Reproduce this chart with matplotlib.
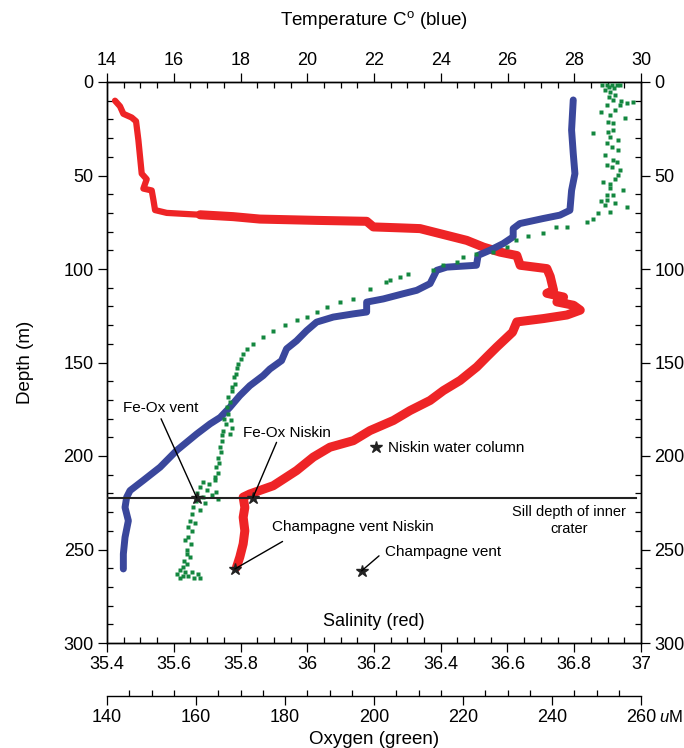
import numpy as np
import matplotlib
matplotlib.use("Agg")
import matplotlib.pyplot as plt
from matplotlib.ticker import MultipleLocator, FormatStrFormatter

plt.rcParams['font.family'] = ['Liberation Sans', 'DejaVu Sans']
plt.rcParams['mathtext.fontset'] = 'custom'
plt.rcParams['mathtext.rm'] = 'Liberation Sans'
plt.rcParams['mathtext.it'] = 'Liberation Sans:italic'

# ── Salinity profile (red) ───────────────────────────────────────────────────
sal_depth = [10, 13, 17, 19, 21, 31, 40, 49, 52, 57, 58, 63, 68.5, 70, 71, 72,
             73.3, 74, 74.5, 77.5, 78, 78.4, 82, 84.7, 88.3, 91, 92.8, 98,
             99.8, 104, 111.4, 113, 115, 117.6, 119.4, 122, 124.6, 126.5,
             128.3, 133.8, 141.7, 147, 152.4, 159.6, 165, 170.3, 175.7, 181,
             186.4, 191.8, 195.3, 200.6, 207.8, 215.9, 220.3, 222, 227.5,
             232.8, 240, 247, 254, 259.5]
salinity = [35.424, 35.439, 35.449, 35.474, 35.487, 35.494, 35.499, 35.504,
            35.519, 35.509, 35.534, 35.539, 35.544, 35.579, 35.679, 35.778,
            35.858, 36.028, 36.178, 36.198, 36.278, 36.338, 36.418, 36.478,
            36.528, 36.578, 36.628, 36.638, 36.718, 36.728, 36.738, 36.718,
            36.768, 36.748, 36.798, 36.818, 36.778, 36.708, 36.628, 36.615,
            36.568, 36.538, 36.508, 36.458, 36.408, 36.368, 36.308, 36.258,
            36.188, 36.138, 36.068, 36.018, 35.968, 35.898, 35.828, 35.808,
            35.813, 35.808, 35.813, 35.808, 35.798, 35.788]

# ── Temperature profile (blue) ───────────────────────────────────────────────
temp_depth = [9.6, 25.7, 38.2, 49, 58, 68.6, 71.2, 73, 75.7, 78.4, 82.8, 86.4,
              90, 92.7, 98, 99, 100.7, 107.8, 111.4, 113.2, 116, 117.7, 123,
              124, 125.7, 128.4, 133, 138.4, 142.7, 149, 153.5, 157, 162.4,
              167.7, 174, 179.4, 182.8, 188.2, 197, 206, 213, 218.5, 222,
              227.5, 234.6, 243.5, 252.4, 260.4]
temperature = [27.97, 27.92, 27.97, 28.02, 27.92, 27.87, 27.57, 27.07, 26.37,
               26.17, 26.17, 25.87, 25.47, 25.12, 25.07, 24.18, 23.88, 23.68,
               23.28, 22.88, 22.28, 21.78, 21.78, 21.38, 20.78, 20.28, 19.98,
               19.68, 19.38, 19.23, 18.88, 18.68, 18.28, 17.98, 17.68, 17.39,
               17.09, 16.69, 16.09, 15.59, 15.09, 14.69, 14.59, 14.54, 14.64,
               14.54, 14.49, 14.49]

# ── Oxygen samples (green squares) ───────────────────────────────────────────
oxy_depth = [1.6, 1.6, 1.6, 1.6, 1.6, 2.5, 3, 4.3, 5.2, 7, 7.9, 9.6, 10, 11.4,
             10.5, 12.3, 12.3, 15, 15.9, 17.7, 19.5, 21.2, 22.1, 27.5, 26.6,
             25.7, 29.3, 31, 32.5, 34.6, 36.4, 39.1, 41.8, 42.7, 44.4, 45.3,
             46.8, 49.8, 52.1, 53.4, 54.3, 56.9, 57.8, 60.5, 60.5, 63.5, 63.2,
             64.6, 66.8, 65.9, 69.4, 70.3, 73, 74.8,
             77.5, 77.5, 81, 82.5, 84.7, 88.2, 91, 91.8, 93.5, 96.3, 98, 100.7,
             102.5, 104.3, 106, 107, 110.6, 116, 117.7, 120.4, 123, 125.7,
             127.5, 130, 133, 136.5, 140, 142.7, 145.4, 148, 150.7, 153, 156,
             158, 161.4, 163, 165, 168.5, 171, 174, 177.5, 180, 181, 183, 185,
             186.4, 188, 189, 192, 195.3, 198, 201, 204, 206, 209, 211, 213,
             214, 215, 216.8, 218, 219, 220, 221, 222, 223, 224, 225, 227.5,
             229, 231, 234.6, 236, 238, 240, 243.5, 245, 247, 250, 252.4, 254,
             256, 258, 259.6, 261, 262, 262, 263, 263, 264, 264, 265, 265, 265]
oxygen = [251.2, 252.3, 253.4, 254.5, 255.3, 252.8, 254.0, 251.9, 253.0, 254.2,
          252.7, 253.8, 255.6, 256.8, 258.3, 252.3, 255.3, 254.2, 251.1, 253.0,
          256.4, 252.6, 253.8, 249.3, 252.6, 253.8, 253.0, 254.9, 252.3, 253.4,
          254.9, 251.9, 253.8, 254.5, 252.3, 253.4, 255.3, 254.9, 254.1, 251.5,
          253.0, 253.0, 256.0, 252.3, 253.8, 251.1, 252.3, 254.2, 256.8, 251.9,
          253.0, 250.4, 249.3, 247.8,
          243.3, 241.0, 238.0, 234.7, 232.0, 229.8, 226.8, 223.0, 220.0, 218.6,
          215.6, 213.3, 207.7, 205.8, 203.6, 202.8, 199.0, 195.3, 192.4, 189.4,
          187.1, 184.9, 182.6, 180.0, 177.4, 175.1, 172.9, 171.4, 170.6, 170.0,
          169.5, 169.3, 169.1, 168.6, 168.8, 168.2, 168.0, 167.3, 167.6, 166.9,
          167.3, 166.4, 167.8, 166.8, 168.2, 166.1, 167.6, 165.8, 165.9, 165.4,
          165.7, 164.9, 165.2, 164.6, 165.0, 164.2, 164.3, 161.5, 163.0, 160.9,
          162.5, 164.5, 160.2, 163.6, 161.5, 165.0, 160.0, 162.0, 159.4, 160.8,
          159.0, 158.7, 159.8, 158.2, 159.2, 158.3, 157.6, 158.8, 157.9, 157.9,
          158.6, 157.3, 158.0, 157.1, 156.5, 157.5, 159.0, 160.5, 155.8, 157.0,
          158.3, 159.6, 161.0, 156.5]

# ── Sample stations (salinity, depth) ────────────────────────────────────────
sill_depth = 222.4
stations = {
    "Fe-Ox vent": (35.669, 222.4),
    "Fe-Ox Niskin": (35.837, 222.4),
    "Niskin water column": (36.205, 195.3),
    "Champagne vent Niskin": (35.783, 260.4),
    "Champagne vent": (36.163, 261.4),
}

red = '#ee2426'
blue = '#3a479c'
green = '#13873f'

fig = plt.figure(figsize=(6.84, 7.48), dpi=100)
ax = fig.add_axes([107 / 684, 1 - 643 / 748, 534 / 684, 561 / 748])
ax2 = ax.twiny()
ax3 = ax.twiny()

# red trace: thinner in the mixed layer, heavier below
k = 14
ax.plot(salinity[:k + 1], sal_depth[:k + 1], color=red, lw=4.5,
        solid_capstyle='round', solid_joinstyle='round')
ax.plot(salinity[k:], sal_depth[k:], color=red, lw=6.5,
        solid_capstyle='round', solid_joinstyle='round')
ax2.plot(temperature, temp_depth, color=blue, lw=5, solid_capstyle='round',
         solid_joinstyle='round')
ax3.plot(oxygen, oxy_depth, 's', color=green, ms=3.2, mec='none')

ax.set_xlim(35.4, 37)
ax2.set_xlim(14, 30)
ax3.set_xlim(140, 260)
ax.set_ylim(300, 0)

# sill line and station markers drawn on top layer
ax3.axhline(sill_depth, xmin=0, xmax=0.991, color='#222222', lw=1.5)
for name, (s, d) in stations.items():
    ax3.plot([s], [d], '*', color='#222222', ms=9, mec='#222222',
             transform=ax.transData)

txt = dict(xycoords=ax.transData, fontsize=11, va='center', ha='left')
leader = dict(xycoords=ax.transData, textcoords=ax.transData,
              arrowprops=dict(arrowstyle='-', color='black', lw=1,
                              shrinkA=0, shrinkB=0))
ax3.annotate("Fe-Ox vent", xy=(35.447, 174.1), **txt)
ax3.annotate("", xy=stations["Fe-Ox vent"], xytext=(35.562, 180.1), **leader)
ax3.annotate("Fe-Ox Niskin", xy=(35.807, 187.5), **txt)
ax3.annotate("", xy=stations["Fe-Ox Niskin"], xytext=(35.908, 192.7), **leader)
ax3.annotate("Niskin water column", xy=(36.243, 195.5), **txt)
ax3.annotate("Champagne vent Niskin", xy=(35.893, 238.2), **txt)
ax3.annotate("", xy=stations["Champagne vent Niskin"], xytext=(35.926, 245.7),
             **leader)
ax3.annotate("Champagne vent", xy=(36.233, 251.6), **txt)
ax3.annotate("", xy=stations["Champagne vent"], xytext=(36.215, 253.4),
             **leader)
ax3.annotate("Sill depth of inner\ncrater", xy=(36.784, 234.6),
             xycoords=ax.transData, fontsize=10.5, ha='center', va='center',
             multialignment='center', linespacing=1.25)
ax3.annotate("Salinity (red)", xy=(0.5, 0.0375), xycoords=ax.transAxes,
             fontsize=13, ha='center', va='center')

# ── ticks ────────────────────────────────────────────────────────────────────
maj = dict(length=6.5, width=0.9, labelsize=13, pad=3)
mino = dict(length=4, width=0.9)

ax.xaxis.set_major_locator(MultipleLocator(0.2))
ax.xaxis.set_minor_locator(MultipleLocator(0.05))
ax.xaxis.set_major_formatter(FormatStrFormatter('%g'))
ax.yaxis.set_major_locator(MultipleLocator(50))
ax.yaxis.set_minor_locator(MultipleLocator(10))
ax.tick_params(axis='x', which='major', direction='out', top=False, **maj)
ax.tick_params(axis='x', which='minor', direction='in', top=False, **mino)
ax.tick_params(axis='y', which='major', direction='out', left=True, right=True,
               labelright=True, **maj)
ax.tick_params(axis='y', which='minor', direction='in', left=True, right=True,
               **mino)

ax2.xaxis.set_major_locator(MultipleLocator(2))
ax2.xaxis.set_minor_locator(MultipleLocator(0.5))
ax2.tick_params(axis='x', which='major', direction='out', **maj)
ax2.tick_params(axis='x', which='minor', direction='in', **mino)

ax3.xaxis.set_ticks_position('bottom')
ax3.xaxis.set_label_position('bottom')
ax3.spines['bottom'].set_position(('outward', 38))
for side in ['top', 'left', 'right']:
    ax3.spines[side].set_visible(False)
ax3.xaxis.set_major_locator(MultipleLocator(20))
ax3.xaxis.set_minor_locator(MultipleLocator(5))
ax3.tick_params(axis='x', which='major', direction='out', **maj)
ax3.tick_params(axis='x', which='minor', direction='in', **mino)

for a in (ax, ax2, ax3):
    for sp in a.spines.values():
        sp.set_linewidth(1.0)

# ── axis titles ──────────────────────────────────────────────────────────────
fig.text(374 / 684, 1 - 20 / 748, r"Temperature C$^{\rm o}$ (blue)",
         fontsize=13.5, ha='center', va='center')
fig.text(25 / 684, 1 - 362 / 748, "Depth (m)", fontsize=13.5, rotation=90,
         ha='center', va='center')
fig.text(374 / 684, 1 - 740 / 748, "Oxygen (green)", fontsize=13.5,
         ha='center', va='center')
fig.text(659 / 684, 1 - 717 / 748, r"$\mathit{u}$M", fontsize=12,
         ha='left', va='center')

fig.savefig("out.png", dpi=100)
